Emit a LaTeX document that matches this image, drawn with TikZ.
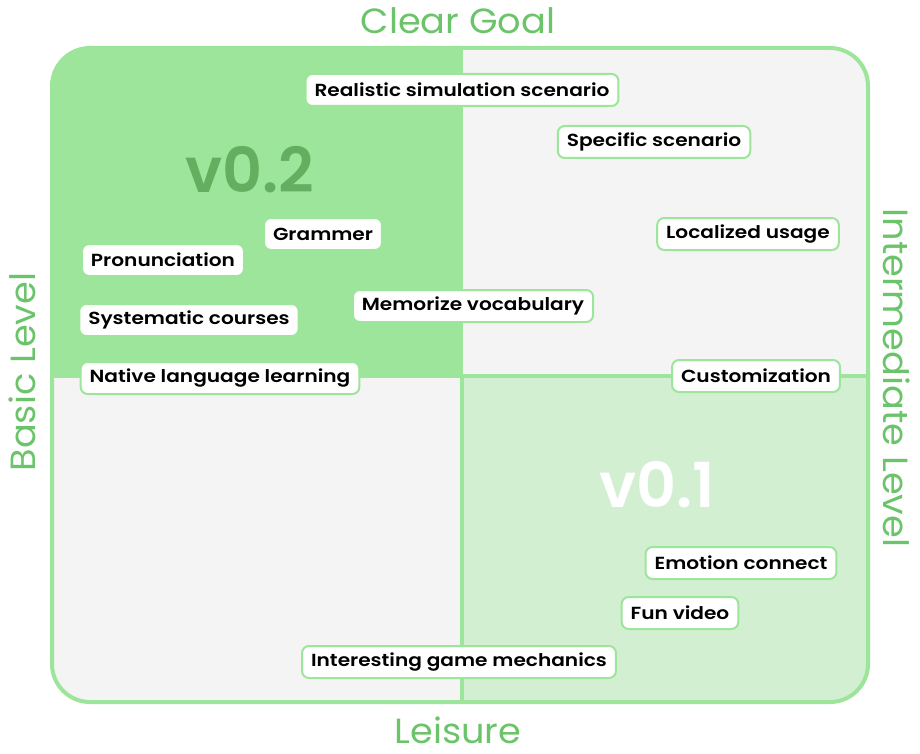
\documentclass[tikz,border=0pt]{standalone}
\usepackage{fontspec}
\setmainfont{Poppins}
\newfontfamily\tagfont{Poppins SemiBold}[FakeStretch=1.15]
\newfontfamily\axisfont{Poppins}[FakeStretch=1.05]
\newfontfamily\versionfont{Poppins SemiBold}
\usetikzlibrary{positioning}
\definecolor{quadgreen}{RGB}{157,229,154}
\definecolor{palegreen}{RGB}{211,239,209}
\definecolor{quadgray}{RGB}{244,244,244}
\definecolor{axiscolor}{RGB}{108,196,106}
\definecolor{versioncolor}{RGB}{100,174,96}

\begin{document}
\begin{tikzpicture}[
    x=1pt, y=-1pt,
    tag/.style={rectangle, draw=quadgreen, line width=2pt, fill=white, rounded corners=7pt, minimum height=32pt, inner xsep=9pt, inner ysep=0pt, font=\tagfont\fontsize{17.5}{20}\selectfont, text=black},
    axislabel/.style={text=axiscolor, inner sep=0pt, font=\axisfont\fontsize{35}{40}\selectfont},
    version/.style={font=\versionfont\fontsize{62}{70}\selectfont}
]
    \useasboundingbox (0,0) rectangle (920,754);

    % Quadrants
    \begin{scope}
        \clip[rounded corners=38pt] (52,48) rectangle (868,702);
        \fill[quadgray] (52,48) rectangle (868,702);
        \fill[quadgreen] (52,48) rectangle (463,378);
        \filldraw[fill=palegreen, draw=quadgreen, line width=4pt] (462,376) rectangle (890,720);
    \end{scope}
    \draw[quadgreen, line width=4pt, rounded corners=38pt] (52,48) rectangle (868,702);

    % Axes
    \node[axislabel] (goal) at (458,21) {Clear Goal};
    \node[axislabel] (leisure) at (458,730) {Leisure};
    \node[axislabel, rotate=90] (basic) at (22,372) {Basic Level};
    \node[axislabel, rotate=-90] (inter) at (897,378) {Intermediate Level};

    % Versions
    \node[version, text=versioncolor] (vtwo) at (250,170) {v0.2};
    \node[version, text=white] (vone) at (657,485) {v0.1};

    % Tags
    \node[tag] (realistic) at (462,90) {Realistic simulation scenario};
    \node[tag] (specific) at (654,142) {Specific scenario};
    \node[tag] (grammer) at (323,234) {Grammer};
    \node[tag] (pronun) at (163,260) {Pronunciation};
    \node[tag] (localized) at (748,234) {Localized usage};
    \node[tag] (vocab) at (473,306) {Memorize vocabulary};
    \node[tag] (courses) at (189,320) {Systematic courses};
    \node[tag] (native) at (220,378) {Native language learning};
    \node[tag] (custom) at (756,376) {Customization};
    \node[tag] (emotion) at (741,563) {Emotion connect};
    \node[tag] (funvideo) at (680,613) {Fun video};
    \node[tag] (game) at (459,662) {Interesting game mechanics};
\end{tikzpicture}
\end{document}
